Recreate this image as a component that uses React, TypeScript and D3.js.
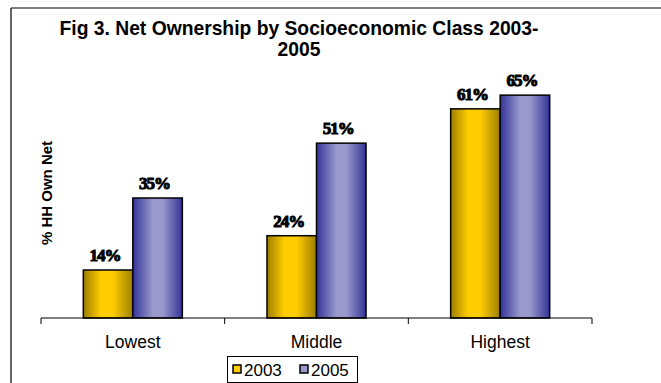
import React from "react";
import * as d3 from "d3";

const categories = ["Lowest", "Middle", "Highest"];
const seriesNames = ["2003", "2005"];
const values2003 = [14, 24, 61];
const values2005 = [35, 51, 65];
const titleLines = ["Fig 3. Net Ownership by Socioeconomic Class 2003-", "2005"];
const yLabel = "% HH Own Net";

const W = 661;
const H = 383;

export default function App() {
  const x = d3.scaleBand<string>().domain(categories).range([41, 592]).paddingInner(0).paddingOuter(0);
  const inner = d3.scaleBand<string>().domain(seriesNames).range([0, x.bandwidth()]).paddingInner(0).paddingOuter(0.855);
  const y = d3.scaleLinear().domain([0, 70]).range([318, 78]);
  const series = [values2003, values2005];
  const fills = ["url(#g2003)", "url(#g2005)"];
  const ticks = [...categories.map((c) => x(c)!), 592];

  return (
    <div style={{ position: "absolute", left: 0, top: 0 }}>
      <svg width={W} height={H} style={{ display: "block", background: "#fff" }}>
        <defs>
          <linearGradient id="g2003" x1="0" x2="1" y1="0" y2="0">
            <stop offset="0" stopColor="#9c7e00" />
            <stop offset="0.35" stopColor="#ffcc00" />
            <stop offset="0.6" stopColor="#ffcc00" />
            <stop offset="1" stopColor="#9c7e00" />
          </linearGradient>
          <linearGradient id="g2005" x1="0" x2="1" y1="0" y2="0">
            <stop offset="0" stopColor="#333399" />
            <stop offset="0.4" stopColor="#9999cc" />
            <stop offset="0.6" stopColor="#9999cc" />
            <stop offset="1" stopColor="#333399" />
          </linearGradient>
        </defs>
        <line x1={11} y1={8} x2={W} y2={8} stroke="#000" strokeWidth={1.2} />
        <line x1={11} y1={8} x2={11} y2={H} stroke="#000" strokeWidth={1.2} />
        {titleLines.map((t, i) => (
          <text key={i} x={299} y={35 + i * 21} textAnchor="middle" fontFamily="Liberation Sans, Arial, sans-serif" fontWeight="bold" fontSize={19.3}>
            {t}
          </text>
        ))}
        <text transform={`translate(52,193) rotate(-90)`} textAnchor="middle" fontFamily="Liberation Sans, Arial, sans-serif" fontWeight="bold" fontSize={15}>
          {yLabel}
        </text>
        {categories.map((c, ci) =>
          seriesNames.map((s, si) => {
            const v = series[si][ci];
            const bx = x(c)! + inner(s)!;
            const bw = inner.bandwidth();
            return (
              <g key={c + s}>
                <rect x={bx} y={y(v)} width={bw} height={y(0) - y(v)} fill={fills[si]} stroke="#000" strokeWidth={1.5} />
                <text x={bx + bw / 2 - 3} y={y(v) - 9} textAnchor="middle" fontFamily="Liberation Serif, serif" fontWeight="bold" fontSize={17} stroke="#000" strokeWidth={1} letterSpacing={-1}>
                  {v}%
                </text>
              </g>
            );
          })
        )}
        <line x1={41} y1={318} x2={592} y2={318} stroke="#000" strokeWidth={1} />
        {ticks.map((t, i) => (
          <line key={i} x1={t} y1={318} x2={t} y2={324} stroke="#000" strokeWidth={1} />
        ))}
        {categories.map((c) => (
          <text key={c} x={x(c)! + x.bandwidth() / 2} y={348} textAnchor="middle" fontFamily="Liberation Sans, Arial, sans-serif" fontSize={17.5}>
            {c}
          </text>
        ))}
        <rect x={227.5} y={356.5} width={130} height={26} fill="#fff" stroke="#000" strokeWidth={1} />
        {seriesNames.map((s, i) => (
          <g key={s} transform={`translate(${233 + i * 67},0)`}>
            <rect x={0} y={365} width={8} height={8} fill={i === 0 ? "#ffcc00" : "#9999cc"} stroke="#000" strokeWidth={1.5} />
            <text x={11} y={375.5} fontFamily="Liberation Sans, Arial, sans-serif" fontSize={17}>
              {s}
            </text>
          </g>
        ))}
      </svg>
    </div>
  );
}
